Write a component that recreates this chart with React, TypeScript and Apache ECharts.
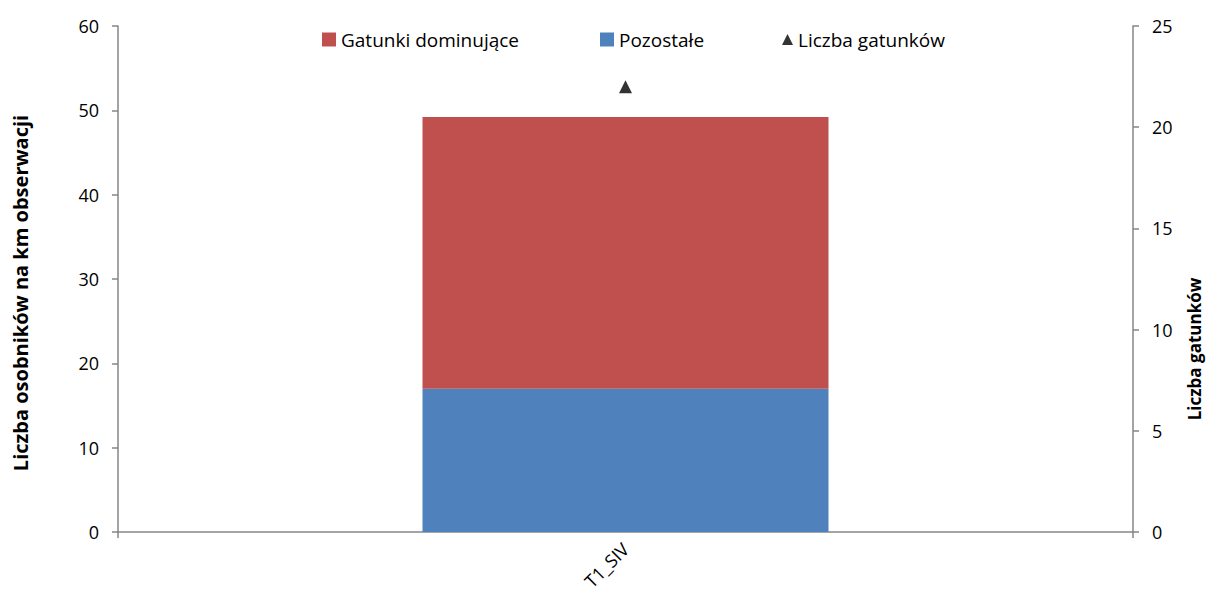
import React, { useEffect, useRef } from "react";
import * as echarts from "echarts";

const categories = ["T1_SIV"];
const dominant = [32.2];
const others = [17.0];
const speciesCount = [22];
const leftTicks = { min: 0, max: 60, interval: 10 };
const rightTicks = { min: 0, max: 25, interval: 5 };

const FONT = "'Open Sans', sans-serif";
const AXIS_COLOR = "#868686";

export default function App() {
  const ref = useRef<HTMLDivElement>(null);
  useEffect(() => {
    if (!ref.current) return;
    const chart = echarts.init(ref.current, undefined, { renderer: "svg" });
    const legendText = { fontSize: 19, color: "#000", fontFamily: FONT };
    chart.setOption({
      animation: false,
      textStyle: { fontFamily: FONT, color: "#000" },
      legend: [
        {
          top: 30,
          left: 322,
          padding: 0,
          itemWidth: 14,
          itemHeight: 14,
          itemGap: 0,
          textStyle: legendText,
          data: [{ name: "Gatunki dominujące", icon: "rect" }],
        },
        {
          top: 30,
          left: 600,
          padding: 0,
          itemWidth: 14,
          itemHeight: 14,
          itemGap: 0,
          textStyle: legendText,
          data: [{ name: "Pozostałe", icon: "rect" }],
        },
        {
          top: 30,
          left: 782,
          padding: 0,
          itemWidth: 11,
          itemHeight: 11,
          itemGap: 0,
          textStyle: legendText,
          data: [{ name: "Liczba gatunków", icon: "triangle" }],
        },
      ],
      grid: { left: 118, right: 74, top: 26, bottom: 65, outerBoundsMode: "none", containLabel: false },
      xAxis: {
        type: "category",
        data: categories,
        boundaryGap: true,
        axisLine: { lineStyle: { color: AXIS_COLOR, width: 1.5 } },
        axisTick: { show: true, length: 6, alignWithLabel: false, lineStyle: { color: AXIS_COLOR, width: 1.5 } },
        axisLabel: { rotate: 45, fontSize: 18, color: "#000", margin: 14, fontFamily: FONT },
      },
      yAxis: [
        {
          type: "value",
          min: leftTicks.min,
          max: leftTicks.max,
          interval: leftTicks.interval,
          name: "Liczba osobników na km obserwacji",
          nameLocation: "middle",
          nameGap: 88,
          nameRotate: 90,
          nameTextStyle: { fontSize: 20, fontWeight: "bold", color: "#000", fontFamily: FONT, padding: [0, 28, 0, 0] },
          axisLine: { show: true, lineStyle: { color: AXIS_COLOR, width: 1.5 } },
          axisTick: { show: true, length: 6, lineStyle: { color: AXIS_COLOR, width: 1.5 } },
          axisLabel: { fontSize: 18, color: "#000", margin: 19, fontFamily: FONT },
          splitLine: { show: false },
        },
        {
          type: "value",
          min: rightTicks.min,
          max: rightTicks.max,
          interval: rightTicks.interval,
          position: "right",
          name: "Liczba gatunków",
          nameLocation: "middle",
          nameGap: 53,
          nameRotate: 90,
          nameTextStyle: { fontSize: 17, fontWeight: "bold", color: "#000", fontFamily: FONT, padding: [0, 140, 0, 0] },
          axisLine: { show: true, lineStyle: { color: AXIS_COLOR, width: 1.5 } },
          axisTick: { show: true, length: 6, lineStyle: { color: AXIS_COLOR, width: 1.5 } },
          axisLabel: { fontSize: 18, color: "#000", margin: 19, fontFamily: FONT },
          splitLine: { show: false },
        },
      ],
      series: [
        {
          name: "Pozostałe",
          type: "bar",
          stack: "total",
          barWidth: "40%",
          data: others,
          itemStyle: { color: "#4F81BD" },
        },
        {
          name: "Gatunki dominujące",
          type: "bar",
          stack: "total",
          barWidth: "40%",
          data: dominant,
          itemStyle: { color: "#C0504D" },
        },
        {
          name: "Liczba gatunków",
          type: "scatter",
          yAxisIndex: 1,
          symbol: "triangle",
          symbolSize: 13,
          data: speciesCount,
          itemStyle: { color: "#000" },
        },
      ],
    });
    return () => chart.dispose();
  }, []);
  return <div ref={ref} style={{ width: 1207, height: 597, position: "absolute", left: 0, top: 0 }} />;
}
